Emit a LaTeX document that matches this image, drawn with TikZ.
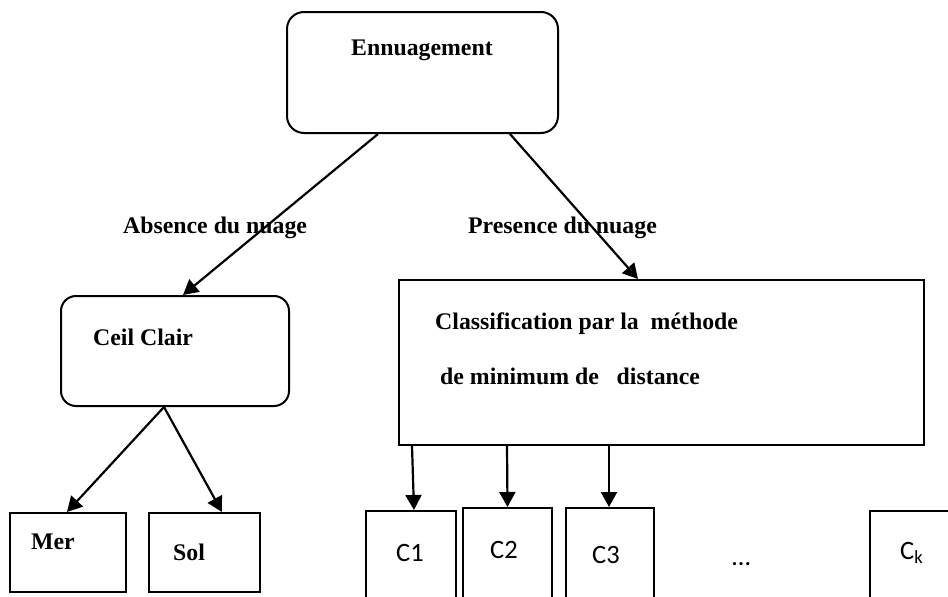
\documentclass[tikz,border=0pt]{standalone}
\usepackage{fontspec}
\setmainfont{Liberation Serif}
\newfontfamily\calib{Carlito}
\usetikzlibrary{arrows.meta}

\tikzset{
  box/.style={draw, line width=2pt, rectangle, inner sep=0pt},
  roundbox/.style={box, rounded corners=17pt},
  link/.style={line width=2.2pt, -{Triangle[length=15pt,width=16pt]}},
  lbl/.style={anchor=base west, inner sep=0pt, font=\fontsize{23.8}{28}\selectfont\bfseries},
  cls/.style={anchor=base west, inner sep=0pt, font=\calib\fontsize{26.5}{30}\selectfont},
}

\begin{document}
\begin{tikzpicture}[x=1pt,y=-1pt]
  \useasboundingbox (0,0) rectangle (948,597);
  \clip (0,0) rectangle (948,597);

  % boxes
  \node[roundbox, minimum width=271pt, minimum height=121pt] (ennu) at (422.5,72.5) {};
  \node[roundbox, rounded corners=15pt, minimum width=228pt, minimum height=110pt] (ceil) at (175,351) {};
  \node[box, minimum width=116pt, minimum height=79pt] (mer) at (68,552.5) {};
  \node[box, minimum width=111pt, minimum height=79pt] (sol) at (204.5,552.5) {};
  \node[box, minimum width=525pt, minimum height=165pt] (classif) at (661.5,362.5) {};
  \node[box, minimum width=90pt, minimum height=120pt] (c1) at (411,571) {};
  \node[box, minimum width=89pt, minimum height=120pt] (c2) at (507.5,568) {};
  \node[box, minimum width=88pt, minimum height=120pt] (c3) at (610,568) {};
  \node[box, minimum width=120pt, minimum height=120pt] (ck) at (930,571) {};

  % texts
  \node[lbl] (tennu) at (351,55) {Ennuagement};
  \node[lbl] (tceil) at (93,345) {Ceil Clair};
  \node[lbl] (tmer) at (31,549) {Mer};
  \node[lbl] (tsol) at (173,560) {Sol};
  \node[lbl] (tclassa) at (435,329) {Classification par la\ \ méthode};
  \node[lbl] (tclassb) at (440,384) {de minimum de\ \ \ distance};
  \node[lbl] (tabs) at (123,233) {Absence du nuage};
  \node[lbl] (tpres) at (468,233) {Presence du nuage};
  \node[cls] (tc1) at (396,561) {C1};
  \node[cls] (tc2) at (490,558) {C2};
  \node[cls] (tc3) at (592,563) {C3};
  \node[cls] (tdots) at (732,565) {…};
  \node[cls] (tck) at (900,559) {C\textsubscript{k}};

  % connectors
  \draw[link] ([xshift=-44.5pt]ennu.south) -- ([xshift=8pt]ceil.north);
  \draw[link] ([xshift=87.5pt]ennu.south) -- ([xshift=-23.5pt]classif.north);
  \draw[link] ([xshift=-11pt]ceil.south) -- ([xshift=-1pt]mer.north);
  \draw[link] ([xshift=-11pt]ceil.south) -- ([xshift=17.5pt]sol.north);
  \draw[link] ([xshift=-249.5pt]classif.south) -- ([xshift=3pt]c1.north);
  \draw[link] ([xshift=-154.5pt]classif.south) -- (c2.north);
  \draw[link] ([xshift=-52.5pt]classif.south) -- ([xshift=-1pt]c3.north);
\end{tikzpicture}
\end{document}
